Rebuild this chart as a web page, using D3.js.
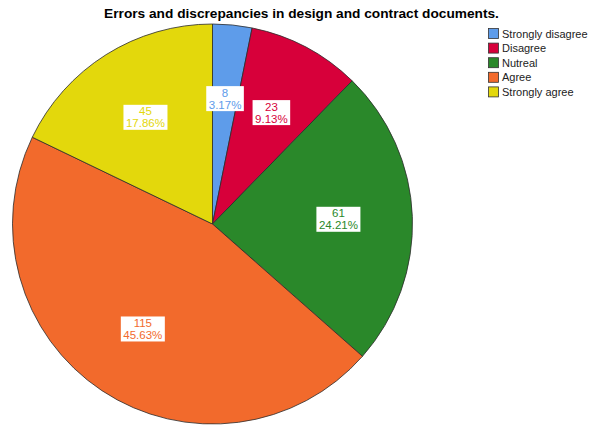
<!DOCTYPE html>
<html><head><meta charset="utf-8">
<script src="https://cdn.jsdelivr.net/npm/d3@7"></script>
<style>body{margin:0;background:#fff;}svg{display:block;font-family:"Liberation Sans",Arial,sans-serif;}</style>
</head><body>
<script>
const categories = ["Strongly disagree","Disagree","Nutreal","Agree","Strongly agree"];
const counts = [8,23,61,115,45];
const colors = ["#5e9cea","#d7003a","#2a882a","#f26a2c","#e3d80c"];
const title = "Errors and discrepancies in design and contract documents.";

const W=589,H=426;
const svg=d3.select("body").append("svg").attr("width",W).attr("height",H);
const cx=212.5, cy=224, R=200;
const total=d3.sum(counts);
const data=categories.map((c,i)=>({cat:c,value:counts[i],color:colors[i]}));
const pie=d3.pie().sort(null).value(d=>d.value);
const arcs=pie(data);
const arc=d3.arc().innerRadius(0).outerRadius(R);
const labelArc=d3.arc().innerRadius(126).outerRadius(126);

svg.append("text").attr("x",301.5).attr("y",17.5).attr("text-anchor","middle")
  .attr("font-size",13.7).attr("font-weight","bold").attr("fill","#000").text(title);

const g=svg.append("g").attr("transform",`translate(${cx},${cy})`);
g.selectAll("path").data(arcs).join("path").attr("d",arc)
  .attr("fill",d=>d.data.color).attr("stroke","#2b2b2b").attr("stroke-width",0.8);

const lg=g.selectAll("g.lbl").data(arcs).join("g").attr("class","lbl")
  .attr("transform",d=>`translate(${labelArc.centroid(d)})`);
lg.each(function(d){
  const s=d3.select(this);
  const pct=(d.data.value/total*100).toFixed(2)+"%";
  const t1=s.append("text").attr("text-anchor","middle").attr("y",-2).attr("font-size",11.5).attr("fill",d.data.color).text(d.data.value);
  const t2=s.append("text").attr("text-anchor","middle").attr("y",10).attr("font-size",11.5).attr("fill",d.data.color).text(pct);
  const w=Math.max(t1.node().getComputedTextLength(),t2.node().getComputedTextLength())+5;
  s.insert("rect","text").attr("x",-w/2).attr("y",-12.5).attr("width",w).attr("height",25).attr("fill","#fff");
});

const leg=svg.append("g").attr("transform","translate(488,28)");
const li=leg.selectAll("g").data(data).join("g").attr("transform",(d,i)=>`translate(0,${i*14.6})`);
li.append("rect").attr("x",0.5).attr("y",0.5).attr("width",10).attr("height",10)
  .attr("fill",d=>d.color).attr("stroke","#333").attr("stroke-width",0.8);
li.append("text").attr("x",14).attr("y",9.5).attr("font-size",11).attr("fill","#222").text(d=>d.cat);
</script>
</body></html>
